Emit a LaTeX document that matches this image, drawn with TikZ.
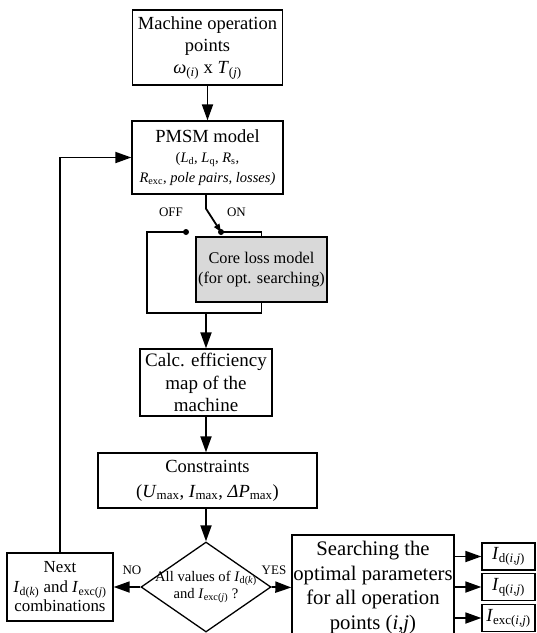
\documentclass[tikz,border=0pt]{standalone}
\usepackage{fontspec}
\setmainfont{Liberation Serif}
\usetikzlibrary{arrows.meta,shapes.geometric}
\definecolor{coregray}{RGB}{217,217,217}
\newcommand*{\boxfont}{\fontsize{18.5}{22}\selectfont}
\newcommand*{\parfont}{\fontsize{14.5}{20}\selectfont}
\newcommand*{\decfont}{\fontsize{14.6}{17}\selectfont}
\newcommand*{\tagfont}{\fontsize{13}{15}\selectfont}
\tikzstyle{block}=[draw, line width=1.3pt, align=center, inner sep=0pt, fill=white]
\tikzstyle{decision}=[draw, shape=diamond, line width=1.3pt, inner sep=0pt, minimum width=130pt, minimum height=90pt]
\tikzstyle{outbox}=[block, minimum width=53pt, minimum height=27pt, font=\fontsize{18.5}{22}\selectfont]
\tikzstyle{wire}=[line width=1.8pt]
\tikzstyle{arr}=[wire, -{Triangle[length=16pt,width=11pt]}]

\begin{document}
\begin{tikzpicture}[x=1pt,y=-1pt]
	\path[use as bounding box] (0,0) rectangle (537,633);
	\clip (0,0) rectangle (537,633);
	% main column
	\node[block, minimum width=150pt, minimum height=75pt, font=\boxfont] (points) at (207.5,47.5)
	{Machine operation\\points\\\textit{ω}\textsubscript{(\textit{i})} x \textit{T}\textsubscript{(\textit{j})}};
	\node[block, minimum width=151pt, minimum height=73pt, font=\parfont] (pmsm) at (207.5,157.5)
	{{\boxfont PMSM model}\\
	(\textit{L}\textsubscript{d}, \textit{L}\textsubscript{q}, \textit{R}\textsubscript{s},\\
	\textit{R}\textsubscript{exc}, \textit{pole pairs, losses)}};
	\node[block, fill=coregray, minimum width=131pt, minimum height=65pt, font=\fontsize{16.3}{20}\selectfont] (core) at (261.5,269.5)
	{Core loss model\\(for opt. searching)};
	\node[block, minimum width=132pt, minimum height=67pt, font=\fontsize{19}{22.5}\selectfont] (calc) at (206,382.5)
	{Calc. efficiency\\map of the\\machine};
	\node[block, minimum width=219pt, minimum height=55pt, font=\fontsize{18.5}{25}\selectfont] (cons) at (207.5,480.5)
	{Constraints\\(\textit{U}\textsubscript{max}, \textit{I}\textsubscript{max}, \textit{ΔP}\textsubscript{max})};
	\node[decision, label={[font=\decfont, align=center]center:All values of \textit{I}\textsubscript{d(\textit{k})}\\and \textit{I}\textsubscript{exc(\textit{j})} ?}] (allval) at (206,587) {};
	\node[block, minimum width=106pt, minimum height=68pt, font=\fontsize{16.9}{19.5}\selectfont] (next) at (60,587)
	{Next\\\textit{I}\textsubscript{d(\textit{k})} and \textit{I}\textsubscript{exc(\textit{j})}\\combinations};
	\node[block, minimum width=162pt, minimum height=105pt, font=\fontsize{20.7}{24.5}\selectfont] (search) at (373,587.5)
	{Searching the\\optimal parameters\\for all operation\\points (\textit{i},\textit{j})};
	% outputs
	\node[outbox] (idout) at (508.5,556.5) {\textit{I}\textsubscript{d(\textit{i},\textit{j})}};
	\node[outbox] (iqout) at (508.5,587) {\textit{I}\textsubscript{q(\textit{i},\textit{j})}};
	\node[outbox] (iexcout) at (508.5,618) {\textit{I}\textsubscript{exc(\textit{i},\textit{j})}};
	% switch
	\coordinate (off) at (186,232);
	\coordinate (on) at (221,232);
	\coordinate (join) at (206,313);
	\node[font=\tagfont] (offlbl) at (171,212) {OFF};
	\node[font=\tagfont] (onlbl) at (236.5,212) {ON};
	\fill (off) circle (3);
	\fill (on) circle (3);
	\draw[wire, -{Triangle[length=8pt,width=6pt]}] (pmsm.south -| 206,0) -- ++(0,14) -- (on);
	\draw[wire] (off) -- ++(-39,0) |- (join);
	\draw[wire] (on) -| (core.north);
	\draw[wire] (core.south) |- (join);
	% arrows
	\draw[arr] (points) -- (pmsm);
	\draw[arr] (join) -- (calc);
	\draw[arr] (calc) -- (calc |- cons.north);
	\draw[arr] (cons.south -| allval) -- (allval);
	\draw[arr] (allval.west) -- (next.east);
	\draw[arr] (allval.east) -- (search.west);
	\node[font=\tagfont] (nolbl) at (132,570) {NO};
	\node[font=\tagfont] (yeslbl) at (274,570) {YES};
	\draw[arr] (next.north) |- (pmsm.west);
	\foreach \o in {idout,iqout,iexcout}
		\draw[arr] (search.east |- \o.west) -- (\o.west);
\end{tikzpicture}
\end{document}
